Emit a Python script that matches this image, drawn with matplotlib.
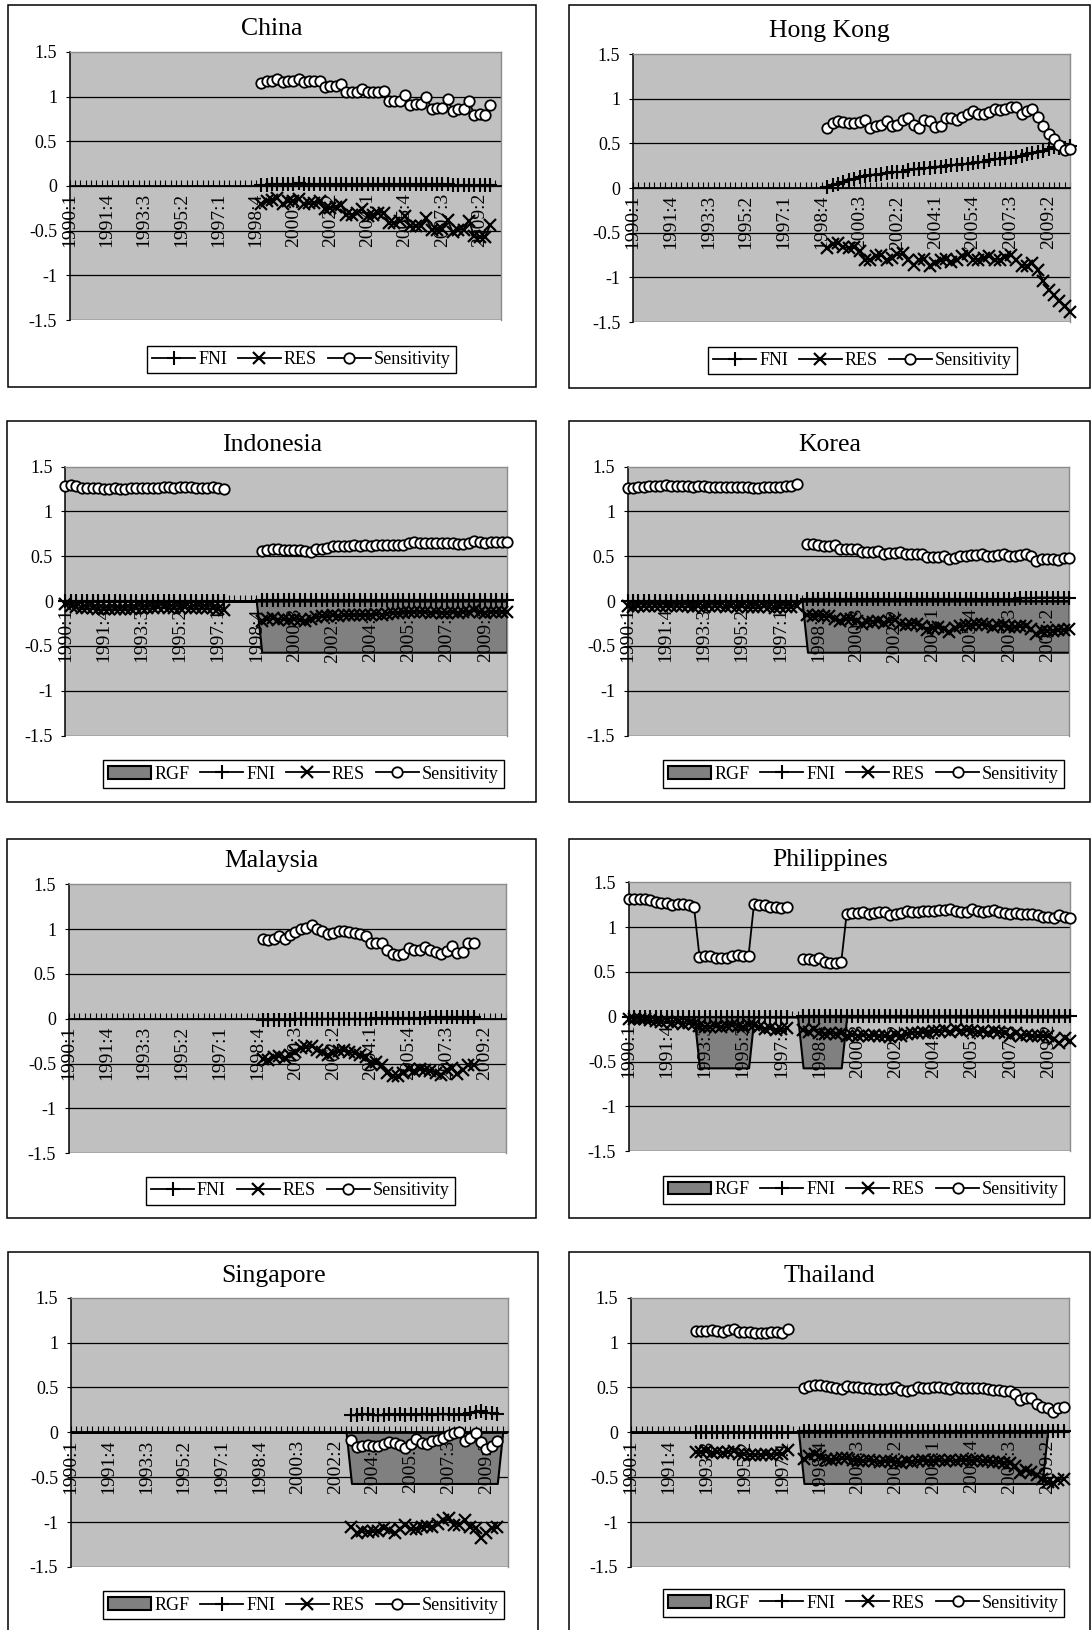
import numpy as np
import matplotlib
matplotlib.use("Agg")
import matplotlib.pyplot as plt
from matplotlib.patches import Rectangle, Patch
from matplotlib.lines import Line2D

plt.rcParams['font.family'] = ['Liberation Serif', 'DejaVu Serif']

# Kategorieen: kwartalen 1990:1 .. 2010:2
quarters = [f"{y}:{q}" for y in range(1990, 2011) for q in range(1, 5)][:82]
label_step = 7
y_ticks = [-1.5, -1, -0.5, 0, 0.5, 1, 1.5]
y_labels = ['-1.5', '-1', '-0.5', '0', '0.5', '1', '1.5']

# ---------------- China ----------------
china_start = "1999:1"
china_fni = [0.01, 0.01, 0.02, 0.02, 0.02, 0.02, 0.02, 0.03, 0.02, 0.02, 0.02, 0.02,
             0.02, 0.02, 0.02, 0.02, 0.02, 0.02, 0.02, 0.02, 0.02, 0.02, 0.02, 0.02,
             0.02, 0.02, 0.02, 0.02, 0.02, 0.02, 0.02, 0.02, 0.02, 0.02, 0.02, 0.02,
             0.01, 0.01, 0.01, 0.01, 0.01, 0.01, 0.01, 0.01]
china_res = [-0.20, -0.17, -0.16, -0.14, -0.20, -0.17, -0.17, -0.15, -0.20, -0.19, -0.19, -0.17,
             -0.26, -0.25, -0.23, -0.21, -0.32, -0.32, -0.30, -0.26, -0.34, -0.32, -0.30, -0.30,
             -0.41, -0.41, -0.39, -0.34, -0.45, -0.45, -0.45, -0.36, -0.49, -0.49, -0.48, -0.38,
             -0.52, -0.49, -0.49, -0.39, -0.56, -0.57, -0.57, -0.44]
china_sens = [1.15, 1.17, 1.18, 1.20, 1.16, 1.17, 1.18, 1.20, 1.16, 1.17, 1.17, 1.18,
              1.11, 1.12, 1.12, 1.14, 1.05, 1.05, 1.05, 1.08, 1.05, 1.05, 1.05, 1.06,
              0.95, 0.95, 0.95, 1.02, 0.91, 0.92, 0.92, 1.00, 0.86, 0.87, 0.87, 0.97,
              0.84, 0.86, 0.86, 0.95, 0.80, 0.81, 0.80, 0.91]

# ---------------- Hong Kong ----------------
hk_start = "1999:1"
hk_fni = [0.01, 0.03, 0.05, 0.07, 0.09, 0.10, 0.12, 0.14, 0.15, 0.15, 0.16, 0.17,
          0.18, 0.18, 0.18, 0.20, 0.21, 0.21, 0.22, 0.23, 0.24, 0.24, 0.25, 0.26,
          0.26, 0.27, 0.27, 0.28, 0.29, 0.29, 0.31, 0.32, 0.33, 0.34, 0.34, 0.35,
          0.36, 0.38, 0.39, 0.40, 0.41, 0.44, 0.46, 0.45, 0.45, 0.47]
hk_res = [-0.67, -0.63, -0.62, -0.66, -0.67, -0.66, -0.70, -0.80, -0.80, -0.76, -0.75, -0.80,
          -0.78, -0.74, -0.73, -0.80, -0.86, -0.80, -0.79, -0.87, -0.84, -0.80, -0.79, -0.83,
          -0.80, -0.76, -0.74, -0.80, -0.80, -0.78, -0.76, -0.80, -0.80, -0.77, -0.75, -0.80,
          -0.87, -0.87, -0.84, -0.92, -1.04, -1.14, -1.20, -1.26, -1.32, -1.39]
hk_sens = [0.67, 0.73, 0.75, 0.74, 0.73, 0.73, 0.74, 0.76, 0.67, 0.69, 0.71, 0.75,
           0.70, 0.71, 0.76, 0.78, 0.71, 0.67, 0.76, 0.75, 0.68, 0.70, 0.78, 0.78,
           0.76, 0.80, 0.83, 0.86, 0.83, 0.83, 0.85, 0.89, 0.87, 0.89, 0.91, 0.91,
           0.83, 0.86, 0.88, 0.79, 0.69, 0.60, 0.55, 0.48, 0.43, 0.44]

# ---------------- Indonesia ----------------
indonesia_start_a = "1990:1"
indonesia_fni_a = [0.00, 0.00, 0.00, 0.00, 0.00, 0.00, 0.00, 0.00, 0.00, 0.00,
                   0.00, 0.00, 0.00, 0.00, 0.00, 0.00, 0.00, 0.00, 0.00, 0.00,
                   0.00, 0.00, 0.00, 0.00, 0.00, 0.00, 0.00, 0.00, 0.00, 0.00]
indonesia_res_a = [-0.03, -0.05, -0.07, -0.08, -0.08, -0.08, -0.09, -0.09, -0.09, -0.09,
                   -0.09, -0.09, -0.09, -0.08, -0.08, -0.08, -0.08, -0.07, -0.07, -0.08,
                   -0.08, -0.08, -0.07, -0.08, -0.08, -0.08, -0.08, -0.08, -0.09, -0.10]
indonesia_sens_a = [1.28, 1.29, 1.28, 1.26, 1.26, 1.26, 1.26, 1.25, 1.25, 1.26,
                    1.25, 1.25, 1.26, 1.26, 1.26, 1.26, 1.26, 1.26, 1.27, 1.27,
                    1.26, 1.27, 1.27, 1.27, 1.26, 1.26, 1.26, 1.27, 1.26, 1.25]
indonesia_start_b = "1999:1"
indonesia_fni_b = [0.01, 0.01, 0.01, 0.01, 0.01, 0.01, 0.01, 0.01, 0.01, 0.01, 0.01, 0.01,
                   0.01, 0.01, 0.01, 0.01, 0.01, 0.01, 0.01, 0.01, 0.01, 0.01, 0.01, 0.01,
                   0.01, 0.01, 0.01, 0.01, 0.01, 0.01, 0.01, 0.01, 0.01, 0.01, 0.01, 0.01,
                   0.01, 0.01, 0.01, 0.01, 0.01, 0.01, 0.01, 0.01, 0.01, 0.01]
indonesia_res_b = [-0.22, -0.20, -0.19, -0.21, -0.20, -0.21, -0.20, -0.21, -0.22, -0.20, -0.18, -0.17,
                   -0.17, -0.16, -0.17, -0.16, -0.15, -0.16, -0.15, -0.16, -0.15, -0.14, -0.15, -0.14,
                   -0.13, -0.13, -0.12, -0.12, -0.12, -0.12, -0.12, -0.13, -0.12, -0.13, -0.13, -0.12,
                   -0.13, -0.12, -0.12, -0.10, -0.12, -0.13, -0.12, -0.12, -0.12, -0.12]
indonesia_sens_b = [0.56, 0.57, 0.58, 0.58, 0.57, 0.57, 0.57, 0.57, 0.56, 0.55, 0.58, 0.58,
                    0.59, 0.61, 0.61, 0.61, 0.61, 0.62, 0.61, 0.62, 0.61, 0.62, 0.62, 0.63,
                    0.62, 0.63, 0.63, 0.65, 0.66, 0.65, 0.65, 0.65, 0.65, 0.65, 0.65, 0.65,
                    0.64, 0.64, 0.65, 0.67, 0.66, 0.65, 0.66, 0.66, 0.66, 0.66]
indonesia_rgf = [0, 0, 0, 0,  0, 0, 0, 0,  0, 0, 0, 0,  0, 0, 0, 0,  0, 0, 0, 0,
                 0, 0, 0, 0,  0, 0, 0, 0,  0, 0, 0, 0,  0, 0, 0, 0,
                 -0.57, -0.57, -0.57, -0.57,  -0.57, -0.57, -0.57, -0.57,
                 -0.57, -0.57, -0.57, -0.57,  -0.57, -0.57, -0.57, -0.57,
                 -0.57, -0.57, -0.57, -0.57,  -0.57, -0.57, -0.57, -0.57,
                 -0.57, -0.57, -0.57, -0.57,  -0.57, -0.57, -0.57, -0.57,
                 -0.57, -0.57, -0.57, -0.57,  -0.57, -0.57, -0.57, -0.57,
                 -0.57, -0.57, -0.57, -0.57,  -0.57, -0.57]

# ---------------- Korea ----------------
korea_start_a = "1990:1"
korea_fni_a = [0.00, 0.00, 0.00, 0.00, 0.00, 0.00, 0.00, 0.00, 0.00, 0.00, 0.00, 0.00,
               0.00, 0.00, 0.00, 0.00, 0.00, 0.00, 0.00, 0.00, 0.00, 0.00, 0.00, 0.00,
               0.00, 0.00, 0.00, 0.00, 0.00, 0.00, 0.00, 0.00]
korea_res_a = [-0.06, -0.07, -0.06, -0.06, -0.06, -0.06, -0.06, -0.06, -0.05, -0.06, -0.06, -0.06,
               -0.07, -0.06, -0.07, -0.06, -0.06, -0.06, -0.07, -0.06, -0.07, -0.06, -0.07, -0.07,
               -0.07, -0.06, -0.07, -0.08, -0.07, -0.07, -0.07, -0.05]
korea_sens_a = [1.26, 1.26, 1.27, 1.27, 1.28, 1.28, 1.28, 1.29, 1.28, 1.28, 1.28, 1.28,
                1.27, 1.28, 1.28, 1.27, 1.27, 1.27, 1.27, 1.27, 1.27, 1.27, 1.27, 1.26,
                1.26, 1.27, 1.27, 1.27, 1.27, 1.28, 1.28, 1.30]
korea_start_b = "1998:2"
korea_fni_b = [0.02, 0.02, 0.02, 0.02, 0.02, 0.02, 0.02, 0.02, 0.02, 0.02, 0.02, 0.02,
               0.02, 0.02, 0.02, 0.02, 0.02, 0.02, 0.02, 0.02, 0.02, 0.02, 0.02, 0.02,
               0.02, 0.02, 0.02, 0.02, 0.02, 0.02, 0.02, 0.02, 0.02, 0.02, 0.02, 0.02,
               0.02, 0.02, 0.02, 0.03, 0.03, 0.03, 0.04, 0.04, 0.04, 0.04, 0.04, 0.04, 0.04]
korea_res_b = [-0.15, -0.17, -0.16, -0.17, -0.17, -0.20, -0.22, -0.20, -0.20, -0.22, -0.25, -0.23,
               -0.23, -0.22, -0.24, -0.22, -0.21, -0.25, -0.27, -0.25, -0.25, -0.28, -0.32, -0.30,
               -0.29, -0.31, -0.34, -0.30, -0.28, -0.27, -0.27, -0.26, -0.26, -0.27, -0.29, -0.27,
               -0.27, -0.29, -0.29, -0.28, -0.28, -0.31, -0.37, -0.33, -0.33, -0.33, -0.32, -0.32,
               -0.31]
korea_sens_b = [0.64, 0.64, 0.62, 0.61, 0.61, 0.62, 0.58, 0.58, 0.58, 0.58, 0.55, 0.55,
                0.55, 0.56, 0.53, 0.54, 0.54, 0.55, 0.52, 0.52, 0.52, 0.52, 0.49, 0.49,
                0.49, 0.50, 0.47, 0.48, 0.50, 0.50, 0.51, 0.51, 0.52, 0.50, 0.50, 0.51,
                0.53, 0.50, 0.50, 0.51, 0.52, 0.50, 0.45, 0.47, 0.47, 0.47, 0.46, 0.48,
                0.48]
korea_rgf = [0, 0, 0, 0,  0, 0, 0, 0,  0, 0, 0, 0,  0, 0, 0, 0,  0, 0, 0, 0,
             0, 0, 0, 0,  0, 0, 0, 0,  0, 0, 0, 0,
             0, -0.57, -0.57, -0.57,
             -0.57, -0.57, -0.57, -0.57,  -0.57, -0.57, -0.57, -0.57,
             -0.57, -0.57, -0.57, -0.57,  -0.57, -0.57, -0.57, -0.57,
             -0.57, -0.57, -0.57, -0.57,  -0.57, -0.57, -0.57, -0.57,
             -0.57, -0.57, -0.57, -0.57,  -0.57, -0.57, -0.57, -0.57,
             -0.57, -0.57, -0.57, -0.57,  -0.57, -0.57, -0.57, -0.57,
             -0.57, -0.57, -0.57, -0.57,  -0.57, -0.57]

# ---------------- Malaysia ----------------
malaysia_start = "1999:1"
malaysia_fni = [-0.01, -0.01, -0.01, -0.01, -0.01, -0.01, 0.00, 0.00, 0.00, 0.00,
                0.00, 0.00, 0.00, 0.00, 0.00, 0.00, 0.00, 0.00, 0.00, 0.00,
                0.00, 0.01, 0.01, 0.01, 0.01, 0.01, 0.01, 0.01, 0.01, 0.01,
                0.01, 0.02, 0.02, 0.02, 0.02, 0.02, 0.02, 0.02, 0.02, 0.02]
malaysia_res = [-0.45, -0.46, -0.43, -0.42, -0.44, -0.40, -0.37, -0.33, -0.32, -0.30,
                -0.35, -0.37, -0.40, -0.38, -0.36, -0.35, -0.37, -0.38, -0.40, -0.43,
                -0.50, -0.48, -0.52, -0.60, -0.64, -0.64, -0.60, -0.56, -0.58, -0.56,
                -0.57, -0.58, -0.60, -0.63, -0.57, -0.55, -0.62, -0.57, -0.52, -0.51]
malaysia_sens = [0.89, 0.88, 0.89, 0.92, 0.89, 0.93, 0.97, 1.00, 1.01, 1.04,
                 1.00, 0.98, 0.94, 0.96, 0.98, 0.98, 0.97, 0.96, 0.95, 0.92,
                 0.85, 0.85, 0.84, 0.77, 0.72, 0.71, 0.72, 0.79, 0.77, 0.77,
                 0.80, 0.77, 0.75, 0.72, 0.76, 0.81, 0.73, 0.75, 0.84, 0.84]

# ---------------- Philippines ----------------
philippines_start_a = "1990:1"
philippines_fni_a = [0.00, 0.00, 0.00, 0.00, 0.00, 0.00, 0.00, 0.00, 0.00, 0.00,
                     0.00, 0.00, 0.00, 0.00, 0.00, 0.00, 0.00, 0.00, 0.00, 0.00,
                     0.00, 0.00, 0.00, 0.00, 0.00, 0.00, 0.00, 0.00, 0.00, 0.00]
philippines_res_a = [-0.02, -0.02, -0.03, -0.03, -0.04, -0.05, -0.06, -0.05, -0.07, -0.06,
                     -0.08, -0.07, -0.08, -0.10, -0.11, -0.11, -0.10, -0.12, -0.10, -0.09,
                     -0.10, -0.11, -0.09, -0.09, -0.11, -0.14, -0.13, -0.15, -0.14, -0.13]
philippines_sens_a = [1.31, 1.31, 1.31, 1.31, 1.30, 1.28, 1.27, 1.27, 1.24, 1.26,
                      1.26, 1.25, 1.22, 0.67, 0.68, 0.68, 0.66, 0.65, 0.65, 0.68,
                      0.69, 0.68, 0.68, 1.26, 1.25, 1.24, 1.22, 1.22, 1.21, 1.22]
philippines_start_b = "1998:1"
philippines_fni_b = [0.01, 0.01, 0.01, 0.01, 0.01, 0.01, 0.01, 0.01, 0.01, 0.01,
                     0.01, 0.01, 0.01, 0.01, 0.01, 0.01, 0.01, 0.01, 0.01, 0.01,
                     0.01, 0.01, 0.01, 0.01, 0.01, 0.01, 0.01, 0.01, 0.01, 0.01,
                     0.01, 0.01, 0.01, 0.01, 0.01, 0.01, 0.01, 0.01, 0.01, 0.01,
                     0.01, 0.01, 0.01, 0.01, 0.01, 0.01, 0.01, 0.01, 0.01, 0.01]
philippines_res_b = [-0.15, -0.17, -0.14, -0.18, -0.19, -0.18, -0.19, -0.18, -0.22, -0.20,
                     -0.21, -0.20, -0.21, -0.20, -0.21, -0.22, -0.23, -0.20, -0.22, -0.19,
                     -0.18, -0.18, -0.17, -0.18, -0.16, -0.16, -0.15, -0.17, -0.14, -0.16,
                     -0.15, -0.16, -0.17, -0.16, -0.18, -0.16, -0.17, -0.18, -0.21, -0.18,
                     -0.21, -0.20, -0.21, -0.22, -0.21, -0.22, -0.25, -0.29, -0.24, -0.27]
philippines_sens_b = [0.64, 0.64, 0.63, 0.65, 0.61, 0.60, 0.60, 0.61,
                      1.15, 1.16, 1.16, 1.17, 1.15, 1.16, 1.17, 1.17, 1.13, 1.15, 1.16, 1.18,
                      1.17, 1.17, 1.18, 1.18, 1.18, 1.19, 1.19, 1.20, 1.18, 1.17, 1.17, 1.20,
                      1.18, 1.17, 1.18, 1.19, 1.17, 1.16, 1.14, 1.16, 1.14, 1.14, 1.15, 1.13,
                      1.11, 1.11, 1.10, 1.13, 1.11, 1.10]
philippines_rgf = [0, 0, 0, 0,  0, 0, 0, 0,  0, 0, 0, 0,
                   0, -0.57, -0.57, -0.57,  -0.57, -0.57, -0.57, -0.57,
                   -0.57, -0.57, -0.57, 0,  0, 0, 0, 0,  0, 0, 0, 0,
                   -0.57, -0.57, -0.57, -0.57,  -0.57, -0.57, -0.57, -0.57,
                   0, 0, 0, 0,  0, 0, 0, 0,  0, 0, 0, 0,  0, 0, 0, 0,  0, 0, 0, 0,
                   0, 0, 0, 0,  0, 0, 0, 0,  0, 0, 0, 0,  0, 0, 0, 0,  0, 0, 0, 0,
                   0, 0]

# ---------------- Singapore ----------------
singapore_start = "2003:1"
singapore_fni = [0.19, 0.19, 0.20, 0.20, 0.19, 0.19, 0.19, 0.20, 0.19, 0.20, 0.19, 0.20,
                 0.19, 0.20, 0.20, 0.19, 0.20, 0.20, 0.20, 0.19, 0.20, 0.19, 0.21, 0.23,
                 0.24, 0.22, 0.21, 0.20]
singapore_res = [-1.05, -1.12, -1.10, -1.11, -1.10, -1.10, -1.07, -1.09, -1.12, -1.08, -1.03, -1.08,
                 -1.08, -1.05, -1.04, -1.05, -1.02, -0.98, -0.96, -1.03, -1.03, -0.98, -1.05, -1.07,
                 -1.18, -1.12, -1.07, -1.05]
singapore_sens = [-0.08, -0.16, -0.15, -0.14, -0.15, -0.15, -0.13, -0.11, -0.12, -0.14, -0.17, -0.13,
                  -0.07, -0.12, -0.13, -0.10, -0.08, -0.06, -0.03, -0.01, 0.00, -0.10, -0.06, -0.01,
                  -0.11, -0.19, -0.15, -0.10]
singapore_rgf = [0, 0, 0, 0,  0, 0, 0, 0,  0, 0, 0, 0,  0, 0, 0, 0,  0, 0, 0, 0,
                 0, 0, 0, 0,  0, 0, 0, 0,  0, 0, 0, 0,  0, 0, 0, 0,  0, 0, 0, 0,
                 0, 0, 0, 0,  0, 0, 0, 0,  0, 0, 0, 0,
                 -0.57, -0.57, -0.57, -0.57,  -0.57, -0.57, -0.57, -0.57,
                 -0.57, -0.57, -0.57, -0.57,  -0.57, -0.57, -0.57, -0.57,
                 -0.57, -0.57, -0.57, -0.57,  -0.57, -0.57, -0.57, -0.57,
                 -0.57, -0.57, -0.57, -0.57,  0, 0]

# ---------------- Thailand ----------------
thailand_start_a = "1993:1"
thailand_fni_a = [0.00, 0.00, 0.00, 0.00, 0.00, 0.00, 0.00, 0.00, 0.00,
                  0.00, 0.00, 0.00, 0.00, 0.00, 0.00, 0.00, 0.00, 0.00]
thailand_res_a = [-0.22, -0.22, -0.21, -0.23, -0.22, -0.23, -0.22, -0.21, -0.24,
                  -0.24, -0.25, -0.25, -0.25, -0.24, -0.25, -0.24, -0.24, -0.20]
thailand_sens_a = [1.13, 1.13, 1.13, 1.14, 1.13, 1.12, 1.14, 1.15, 1.12,
                   1.12, 1.12, 1.11, 1.11, 1.11, 1.12, 1.12, 1.11, 1.15]
thailand_start_b = "1998:1"
thailand_fni_b = [0.01, 0.01, 0.01, 0.01, 0.01, 0.01, 0.01, 0.01, 0.01, 0.01,
                  0.01, 0.01, 0.01, 0.01, 0.01, 0.01, 0.01, 0.01, 0.01, 0.01,
                  0.01, 0.01, 0.01, 0.01, 0.01, 0.01, 0.01, 0.01, 0.01, 0.01,
                  0.01, 0.01, 0.01, 0.01, 0.01, 0.01, 0.01, 0.01, 0.01, 0.01,
                  0.01, 0.01, 0.01, 0.01, 0.01, 0.01, 0.01, 0.01, 0.01]
thailand_res_b = [-0.30, -0.26, -0.24, -0.26, -0.30, -0.31, -0.30, -0.29, -0.29, -0.31,
                  -0.32, -0.32, -0.31, -0.32, -0.33, -0.32, -0.32, -0.33, -0.34, -0.32,
                  -0.33, -0.32, -0.31, -0.32, -0.32, -0.31, -0.32, -0.31, -0.32, -0.31,
                  -0.31, -0.32, -0.31, -0.32, -0.32, -0.33, -0.33, -0.34, -0.34, -0.37,
                  -0.45, -0.42, -0.44, -0.48, -0.52, -0.55, -0.57, -0.53, -0.52]
thailand_sens_b = [0.49, 0.52, 0.53, 0.53, 0.52, 0.50, 0.49, 0.48, 0.52, 0.50,
                   0.50, 0.49, 0.49, 0.48, 0.48, 0.48, 0.49, 0.50, 0.47, 0.46,
                   0.47, 0.50, 0.49, 0.49, 0.50, 0.50, 0.49, 0.48, 0.50, 0.49,
                   0.49, 0.49, 0.49, 0.49, 0.48, 0.47, 0.47, 0.46, 0.46, 0.43,
                   0.36, 0.38, 0.38, 0.32, 0.28, 0.27, 0.23, 0.27, 0.28]
thailand_rgf = [0, 0, 0, 0,  0, 0, 0, 0,  0, 0, 0, 0,  0, 0, 0, 0,  0, 0, 0, 0,
                0, 0, 0, 0,  0, 0, 0, 0,  0, 0, 0, 0,
                -0.57, -0.57, -0.57, -0.57,  -0.57, -0.57, -0.57, -0.57,
                -0.57, -0.57, -0.57, -0.57,  -0.57, -0.57, -0.57, -0.57,
                -0.57, -0.57, -0.57, -0.57,  -0.57, -0.57, -0.57, -0.57,
                -0.57, -0.57, -0.57, -0.57,  -0.57, -0.57, -0.57, -0.57,
                -0.57, -0.57, -0.57, -0.57,  -0.57, -0.57, -0.57, -0.57,
                -0.57, -0.57, -0.57, -0.57,  -0.57, 0]

# Paneelindeling (in pixels van een 1050 x 1569 raster)
W, H = 1050.0, 1630 * 1050 / 1091
panels = [
    ("China", [(china_start, china_fni, china_res, china_sens)], None,
     (8, 5, 516, 372), (67, 50, 482, 308), (290, 346), 28),
    ("Hong Kong", [(hk_start, hk_fni, hk_res, hk_sens)], None,
     (548, 5, 1049, 373), (609, 52, 1030, 310), (830, 347), 30),
    ("Indonesia", [(indonesia_start_a, indonesia_fni_a, indonesia_res_a, indonesia_sens_a),
                   (indonesia_start_b, indonesia_fni_b, indonesia_res_b, indonesia_sens_b)],
     indonesia_rgf, (7, 405, 516, 772), (63, 449, 488, 708), (292, 745), 428),
    ("Korea", [(korea_start_a, korea_fni_a, korea_res_a, korea_sens_a),
               (korea_start_b, korea_fni_b, korea_res_b, korea_sens_b)],
     korea_rgf, (548, 405, 1049, 772), (604, 449, 1029, 708), (831, 745), 428),
    ("Malaysia", [(malaysia_start, malaysia_fni, malaysia_res, malaysia_sens)], None,
     (7, 807, 516, 1172), (66, 851, 487, 1110), (289, 1146), 829),
    ("Philippines", [(philippines_start_a, philippines_fni_a, philippines_res_a, philippines_sens_a),
                     (philippines_start_b, philippines_fni_b, philippines_res_b, philippines_sens_b)],
     philippines_rgf, (548, 807, 1049, 1172), (605, 849, 1030, 1108), (831, 1145), 828),
    ("Singapore", [(singapore_start, singapore_fni, singapore_res, singapore_sens)],
     singapore_rgf, (8, 1205, 518, 1575), (68, 1249, 489, 1508), (292, 1545), 1228),
    ("Thailand", [(thailand_start_a, thailand_fni_a, thailand_res_a, thailand_sens_a),
                  (thailand_start_b, thailand_fni_b, thailand_res_b, thailand_sens_b)],
     thailand_rgf, (548, 1205, 1049, 1575), (607, 1249, 1029, 1508), (831, 1543), 1228),
]

line_kw = dict(color='black', lw=1.3, clip_on=False, zorder=3)
fni_kw = dict(marker='+', ms=9.5, mew=1.5)
res_kw = dict(marker='x', ms=8, mew=1.6)
sens_kw = dict(marker='o', ms=7.5, mfc='white', mec='black', mew=1.3)

fig = plt.figure(figsize=(10.91, 16.30), dpi=100)
fig.patch.set_facecolor('white')

for title, segments, rgf, box, area, leg_c, title_y in panels:
    # kader rond elk paneel
    fig.patches.append(Rectangle((box[0] / W, 1 - box[3] / H), (box[2] - box[0]) / W,
                                 (box[3] - box[1]) / H, transform=fig.transFigure,
                                 fill=False, edgecolor='black', lw=1.1))
    fig.text((box[0] + box[2]) / 2 / W, 1 - title_y / H, title, ha='center', va='center',
             fontsize=18.5)

    ax = fig.add_axes([area[0] / W, 1 - area[3] / H, (area[2] - area[0]) / W,
                       (area[3] - area[1]) / H])
    ax.set_facecolor('#c0c0c0')
    ax.set_xlim(0, len(quarters) - 1)
    ax.set_ylim(y_ticks[0], y_ticks[-1])
    for v in y_ticks[:-1]:
        ax.axhline(v, color='black', lw=0.9, zorder=0.5)

    handles = []
    if rgf is not None:
        ax.fill_between(np.arange(len(rgf)), rgf, 0, facecolor='#808080',
                        edgecolor='black', lw=1.5, zorder=1)
        handles.append(Patch(facecolor='#808080', edgecolor='black', lw=1.5, label='RGF'))

    for start, fni, res, sens in segments:
        i0 = quarters.index(start)
        ax.plot(np.arange(i0, i0 + len(fni)), fni, **line_kw, **fni_kw)
        ax.plot(np.arange(i0, i0 + len(res)), res, **line_kw, **res_kw)
        ax.plot(np.arange(i0, i0 + len(sens)), sens, **line_kw, **sens_kw)

    handles += [Line2D([], [], color='black', lw=1.3, label='FNI', **fni_kw),
                Line2D([], [], color='black', lw=1.3, label='RES', **res_kw),
                Line2D([], [], color='black', lw=1.3, label='Sensitivity', **sens_kw)]

    # assen
    ax.spines['bottom'].set_position(('data', 0))
    ax.spines['bottom'].set_linewidth(1.3)
    ax.spines['left'].set_linewidth(1.1)
    for s in ('top', 'right'):
        ax.spines[s].set_color('#8c8c8c')
        ax.spines[s].set_linewidth(1.0)
    ax.set_xticks(range(len(quarters)))
    ax.set_xticklabels([q if i % label_step == 0 else '' for i, q in enumerate(quarters)],
                       rotation=90, fontsize=14)
    ax.tick_params(axis='x', direction='in', length=4, width=0.8, pad=5)
    ax.set_yticks(y_ticks)
    ax.set_yticklabels(y_labels, fontsize=13)
    ax.tick_params(axis='y', direction='out', length=3, width=0.8, pad=6)

    leg = ax.legend(handles=handles, loc='center', ncol=len(handles),
                    bbox_to_anchor=(leg_c[0] / W, 1 - leg_c[1] / H),
                    bbox_transform=fig.transFigure, fontsize=13, frameon=True,
                    fancybox=False, edgecolor='black', framealpha=1,
                    handlelength=2.4, handletextpad=0.15, columnspacing=0.6,
                    borderpad=0.3, borderaxespad=0)
    leg.get_frame().set_linewidth(1.0)

fig.savefig('out.png', dpi=100)
